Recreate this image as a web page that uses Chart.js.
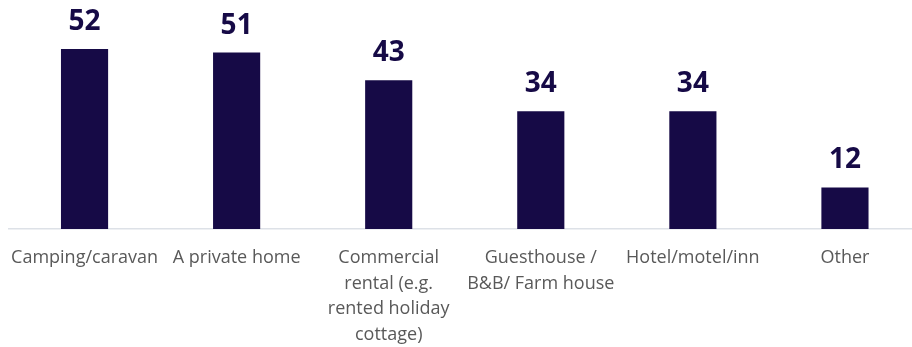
<!DOCTYPE html>
<html>
<head>
<meta charset="utf-8">
<script src="https://cdn.jsdelivr.net/npm/chart.js@4/dist/chart.umd.min.js"></script>
<style>
  html, body { margin: 0; padding: 0; background: #fff; overflow: hidden; }
  #wrap { width: 921px; height: 347px; }
</style>
</head>
<body>
<div id="wrap"><canvas id="chart" width="921" height="347"></canvas></div>
<script>
var categories = [
    "Camping/caravan",
    "A private home",
    ["Commercial", "rental (e.g.", "rented holiday", "cottage)"],
    ["Guesthouse /", "B&B/ Farm house"],
    "Hotel/motel/inn",
    "Other"
];
var values = [52, 51, 43, 34, 34, 12];

var barColor = "#160a46";

// writes each bar's value above it
var valueLabels = {
    id: "valueLabels",
    afterDatasetsDraw: function (chart) {
        var ctx = chart.ctx;
        var meta = chart.getDatasetMeta(0);
        ctx.save();
        ctx.fillStyle = barColor;
        ctx.font = "bold 28px 'Open Sans'";
        ctx.textAlign = "center";
        ctx.textBaseline = "alphabetic";
        meta.data.forEach(function (bar, i) {
            ctx.fillText(String(chart.data.datasets[0].data[i]), bar.x, bar.y - 19);
        });
        ctx.restore();
    }
};

new Chart(document.getElementById("chart"), {
    type: "bar",
    data: {
        labels: categories,
        datasets: [{
            data: values,
            backgroundColor: barColor,
            borderWidth: 0,
            barPercentage: 0.31,
            categoryPercentage: 1
        }]
    },
    options: {
        responsive: false,
        animation: false,
        devicePixelRatio: 1,
        layout: { padding: { left: 8.5, right: 0, top: 21.4, bottom: 0 } },
        plugins: {
            legend: { display: false },
            tooltip: { enabled: false }
        },
        scales: {
            x: {
                grid: { display: false },
                border: { display: true, color: "#dde1e7", width: 1.5 },
                ticks: {
                    color: "#595959",
                    font: { family: "'Open Sans'", size: 18, lineHeight: 1.43 },
                    padding: 8,
                    maxRotation: 0,
                    autoSkip: false
                },
                afterFit: function (scale) {
                    scale.height = 118;
                }
            },
            y: {
                display: false,
                min: 0,
                max: 60
            }
        }
    },
    plugins: [valueLabels]
});
</script>
</body>
</html>
